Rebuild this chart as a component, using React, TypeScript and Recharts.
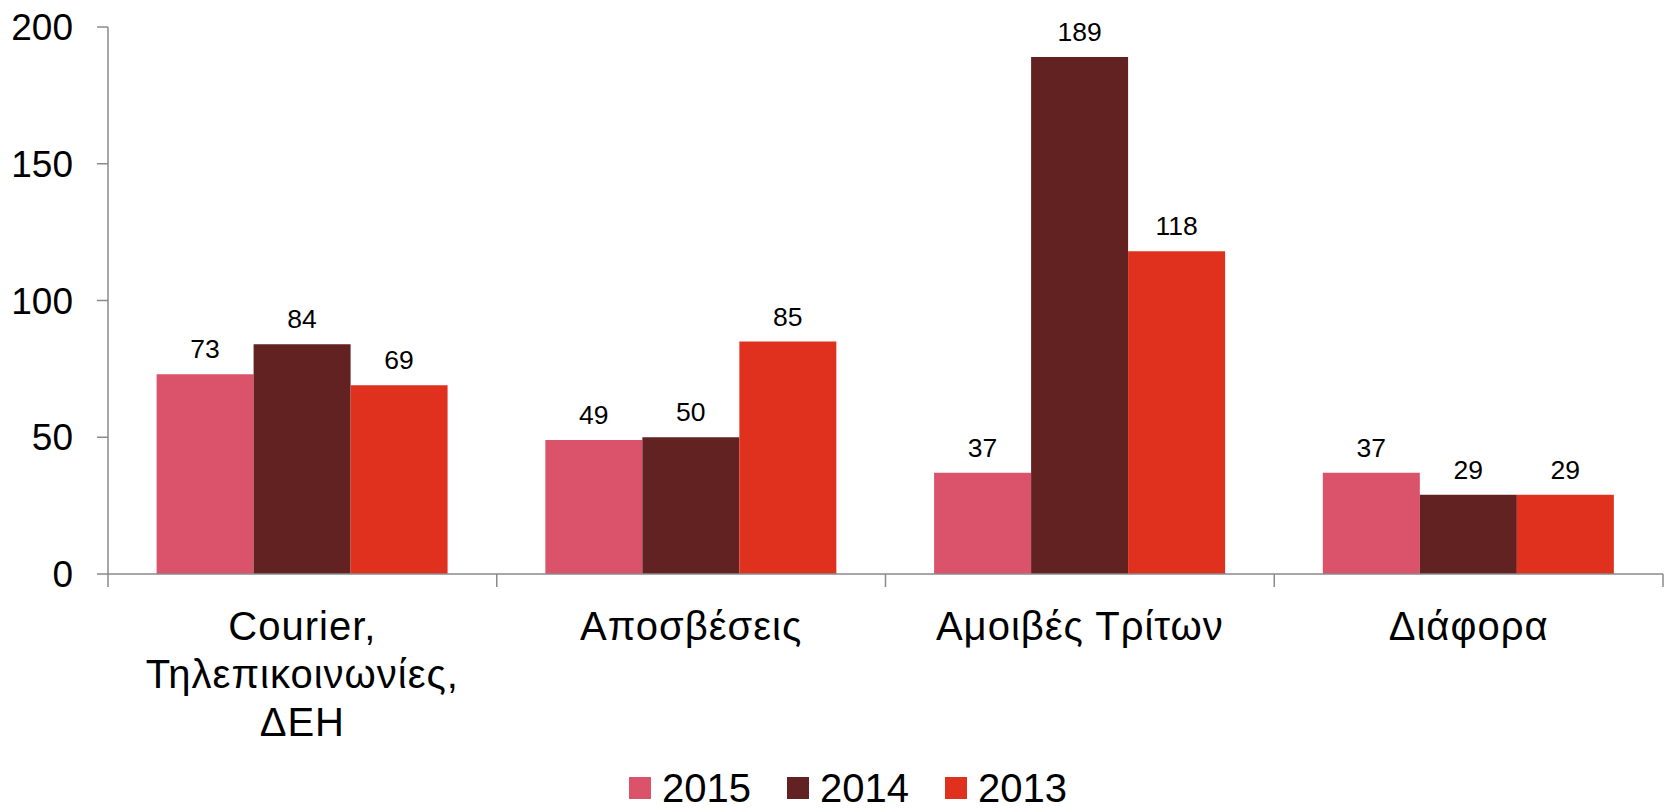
import React from 'react';
import { BarChart, Bar, XAxis, YAxis, Legend, LabelList } from 'recharts';

const categories = ['Courier,\nΤηλεπικοινωνίες,\nΔΕΗ', 'Αποσβέσεις', 'Αμοιβές Τρίτων', 'Διάφορα'];
const values2015 = [73, 49, 37, 37];
const values2014 = [84, 50, 189, 29];
const values2013 = [69, 85, 118, 29];
const yTicks = [0, 50, 100, 150, 200];
const seriesNames = ['2015', '2014', '2013'];
const seriesColors = ['#DB536A', '#622222', '#E0311F'];

const data = categories.map((c, i) => ({
  name: c,
  y2015: values2015[i],
  y2014: values2014[i],
  y2013: values2013[i],
}));

const FONT = '"Liberation Sans", Arial, sans-serif';
const W = 1667;
const H = 811;
const MARGIN = { top: 27, right: 4, left: 0, bottom: 0 };
const Y_W = 108;
const PLOT_W = W - MARGIN.left - MARGIN.right - Y_W;
const BAND = PLOT_W / categories.length;
const AXIS_COLOR = '#8a8a8a';

const XTick = (props: any) => {
  const { x, y, payload, index } = props;
  const lines = String(payload.value).split('\n');
  const left = x - BAND / 2;
  const right = x + BAND / 2;
  return (
    <g>
      <line x1={left} y1={y} x2={left} y2={y + 13} stroke={AXIS_COLOR} strokeWidth={1.5} />
      {index === categories.length - 1 && (
        <line x1={right} y1={y} x2={right} y2={y + 13} stroke={AXIS_COLOR} strokeWidth={1.5} />
      )}
      <text x={x} y={y + 66} textAnchor="middle" fill="#000" fontSize={40} letterSpacing={1} fontFamily={FONT}>
        {lines.map((l, i) => (
          <tspan key={i} x={x} dy={i === 0 ? 0 : 48}>{l}</tspan>
        ))}
      </text>
    </g>
  );
};

const LegendContent = () => (
  <div style={{ display: 'flex', alignItems: 'center', fontFamily: FONT, fontSize: 40, lineHeight: '30px', height: 30, color: '#000' }}>
    {seriesNames.map((n, i) => (
      <div key={n} style={{ display: 'flex', alignItems: 'center', marginRight: i < seriesNames.length - 1 ? 36 : 0 }}>
        <div style={{ width: 22, height: 22, background: seriesColors[i], marginRight: 11 }} />
        <span>{n}</span>
      </div>
    ))}
  </div>
);

export default function App() {
  return (
    <div style={{ position: 'absolute', left: 0, top: 0, width: W, height: H, background: '#fff' }}>
      <BarChart width={W} height={H} data={data} margin={MARGIN} barCategoryGap="12.5%" barGap={0}>
        <XAxis
          dataKey="name"
          axisLine={{ stroke: AXIS_COLOR, strokeWidth: 1.5 }}
          tickLine={false}
          tickSize={0}
          tickMargin={0}
          height={237}
          interval={0}
          tick={<XTick />}
        />
        <YAxis
          width={Y_W}
          domain={[0, 200]}
          ticks={yTicks}
          axisLine={{ stroke: AXIS_COLOR, strokeWidth: 1.5 }}
          tickLine={{ stroke: AXIS_COLOR, strokeWidth: 1.5 }}
          tickSize={11}
          tickMargin={24}
          tick={{ fill: '#000', fontSize: 37, fontFamily: FONT }}
        />
        <Legend
          layout="horizontal"
          verticalAlign="middle"
          align="center"
          wrapperStyle={{ top: 773, left: 629, width: 'auto' }}
          content={<LegendContent />}
        />
        {['y2015', 'y2014', 'y2013'].map((k, i) => (
          <Bar key={k} dataKey={k} name={seriesNames[i]} fill={seriesColors[i]} isAnimationActive={false}>
            <LabelList dataKey={k} position="top" offset={16} fill="#000" fontSize={26.5} fontFamily={FONT} />
          </Bar>
        ))}
      </BarChart>
    </div>
  );
}
